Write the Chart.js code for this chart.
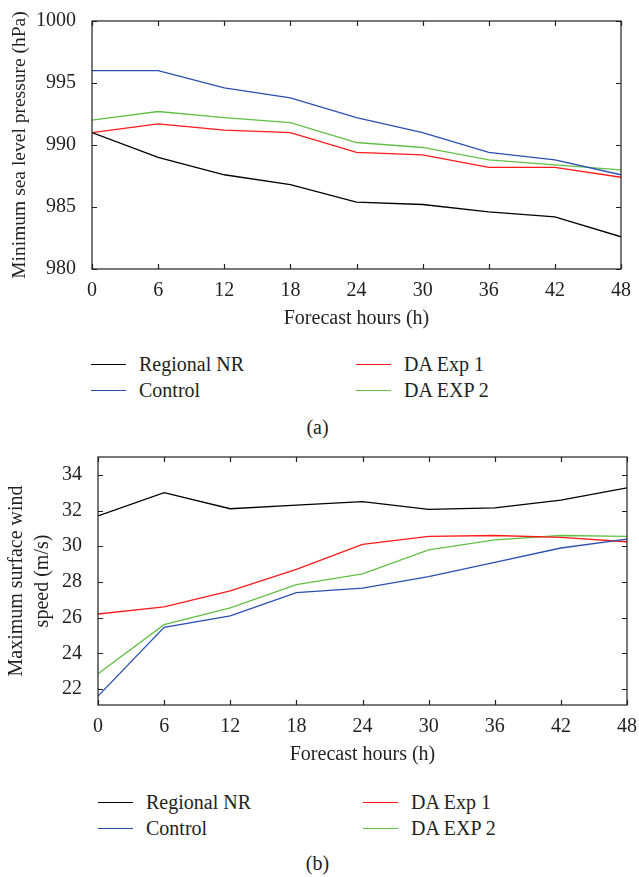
<!DOCTYPE html>
<html>
<head>
<meta charset="utf-8">
<script src="https://cdn.jsdelivr.net/npm/chart.js@4.4.1/dist/chart.umd.min.js"></script>
<style>
	body { margin: 0; background: #fff; font-family: "Liberation Serif", serif; color: #231f20; }
	#page { position: relative; width: 639px; height: 877px; overflow: hidden; }
	.box { position: absolute; left: 0; width: 639px; height: 340px; }
	.legend { position: absolute; display: grid; grid-template-columns: 265px 200px; row-gap: 2px; font-size: 20px; line-height: 24px; }
	.item { display: flex; align-items: center; white-space: nowrap; }
	.swatch { width: 35px; height: 0; border-top: 1.6px solid; margin-right: 13px; }
	.caption { position: absolute; width: 639px; text-align: center; font-size: 20px; line-height: 24px; }
</style>
</head>
<body>
<div id="page">
	<div class="box" style="top:0"><canvas id="chart-pressure"></canvas></div>
	<div class="legend" id="legend-pressure" style="left:91px; top:352px"></div>
	<div class="caption" style="top:415px; left:-2px">(a)</div>

	<div class="box" style="top:430px"><canvas id="chart-wind"></canvas></div>
	<div class="legend" id="legend-wind" style="left:98px; top:790px"></div>
	<div class="caption" style="top:851px; left:-2px">(b)</div>
</div>
<script>
const TEXT = "#231f20";
const FONT = "'Liberation Serif', serif";

// Chart data
const hours = [0, 6, 12, 18, 24, 30, 36, 42, 48];
const seriesNames = ["Regional NR", "Control", "DA Exp 1", "DA EXP 2"];
const seriesColors = ["#000000", "#2a4fb3", "#ff1a1a", "#62bf45"];

const pressureNR = [991, 989, 987.6, 986.8, 985.4, 985.2, 984.6, 984.2, 982.6];
const pressureControl = [996, 996, 994.6, 993.8, 992.2, 991.0, 989.4, 988.8, 987.6];
const pressureExp1 = [991, 991.7, 991.2, 991.0, 989.4, 989.2, 988.2, 988.2, 987.4];
const pressureExp2 = [992, 992.7, 992.2, 991.8, 990.2, 989.8, 988.8, 988.4, 988.0];
const pressureTicks = [980, 985, 990, 995, 1000];

const windNR = [31.7, 33.0, 32.1, 32.3, 32.5, 32.07, 32.15, 32.58, 33.27];
const windControl = [21.6, 25.45, 26.1, 27.4, 27.65, 28.3, 29.1, 29.9, 30.4];
const windExp1 = [26.2, 26.6, 27.5, 28.7, 30.1, 30.55, 30.6, 30.5, 30.25];
const windExp2 = [22.85, 25.6, 26.55, 27.85, 28.45, 29.8, 30.35, 30.6, 30.55];
const windTicks = [22, 24, 26, 28, 30, 32, 34];

// Box round the plot with small inward ticks on all four sides
const frameTicks = {
	id: "frameTicks",
	afterDatasetsDraw(chart) {
		const { ctx, chartArea: a, scales: { x, y } } = chart;
		const len = 5;
		ctx.save();
		ctx.strokeStyle = TEXT;
		ctx.lineWidth = 1.2;
		ctx.beginPath();
		x.ticks.forEach((t) => {
			const px = Math.round(x.getPixelForValue(t.value)) + 0.5;
			ctx.moveTo(px, a.bottom); ctx.lineTo(px, a.bottom - len);
			ctx.moveTo(px, a.top); ctx.lineTo(px, a.top + len);
		});
		y.ticks.forEach((t) => {
			const py = Math.round(y.getPixelForValue(t.value)) + 0.5;
			ctx.moveTo(a.left, py); ctx.lineTo(a.left + len, py);
			ctx.moveTo(a.right, py); ctx.lineTo(a.right - len, py);
		});
		ctx.stroke();
		ctx.strokeRect(a.left, a.top, a.width, a.height);
		ctx.restore();
	},
};

const makeDatasets = (series) =>
	series.map((vals, i) => ({
		label: seriesNames[i],
		data: hours.map((h, k) => ({ x: h, y: vals[k] })),
		borderColor: seriesColors[i],
		backgroundColor: seriesColors[i],
		borderWidth: 1.3,
		pointRadius: 0,
		tension: 0,
		fill: false,
	}));

const makeChart = (id, series, opts) => {
	const tickFont = { family: FONT, size: 20 };
	return new Chart(document.getElementById(id), {
		type: "line",
		data: { datasets: makeDatasets(series) },
		plugins: [frameTicks],
		options: {
			responsive: true,
			maintainAspectRatio: false,
			animation: false,
			layout: { padding: opts.padding },
			plugins: { legend: { display: false }, tooltip: { enabled: false } },
			scales: {
				x: {
					type: "linear",
					min: 0,
					max: 48,
					border: { display: false },
					grid: { display: false },
					afterBuildTicks: (scale) => { scale.ticks = hours.map((v) => ({ value: v })); },
					afterFit: (scale) => { scale.height = opts.xHeight; },
					ticks: { color: TEXT, font: tickFont, padding: 2, maxRotation: 0, callback: (v) => String(v) },
					title: {
						display: true,
						text: "Forecast hours (h)",
						color: TEXT,
						font: { family: FONT, size: 20, lineHeight: 1.2 },
						padding: { top: 0, bottom: opts.xTitlePad },
					},
				},
				y: {
					min: opts.yMin,
					max: opts.yMax,
					border: { display: false },
					grid: { display: false },
					afterBuildTicks: (scale) => { scale.ticks = opts.yTicks.map((v) => ({ value: v })); },
					afterFit: (scale) => { scale.width = opts.yWidth; },
					ticks: { color: TEXT, font: tickFont, padding: 8, callback: (v) => String(v) },
					title: {
						display: true,
						text: opts.yTitle,
						color: TEXT,
						font: { family: FONT, size: opts.yTitleSize, lineHeight: 1.3 },
						padding: { top: opts.yTitlePad, bottom: 0 },
					},
				},
			},
		},
	});
};

// Legend in two columns, filled column by column
const makeLegend = (id) => {
	const el = document.getElementById(id);
	[0, 2, 1, 3].forEach((i) => {
		const item = document.createElement("div");
		item.className = "item";
		item.innerHTML = `<span class="swatch" style="border-color:${seriesColors[i]}"></span><span>${seriesNames[i]}</span>`;
		el.appendChild(item);
	});
};

makeChart("chart-pressure", [pressureNR, pressureControl, pressureExp1, pressureExp2], {
	padding: { top: 21, right: 18, left: 0, bottom: 0 },
	xHeight: 71,
	xTitlePad: 9,
	yWidth: 92,
	yTitlePad: 7,
	yTitleSize: 19.5,
	yMin: 980,
	yMax: 1000,
	yTicks: pressureTicks,
	yTitle: "Minimum sea level pressure (hPa)",
});

makeChart("chart-wind", [windNR, windControl, windExp1, windExp2], {
	padding: { top: 27, right: 12, left: 0, bottom: 0 },
	xHeight: 65,
	xTitlePad: 3,
	yWidth: 98,
	yTitlePad: 4,
	yTitleSize: 20,
	yMin: 21.1,
	yMax: 35,
	yTicks: windTicks,
	yTitle: ["Maximum surface wind", "speed (m/s)"],
});

makeLegend("legend-pressure");
makeLegend("legend-wind");
</script>
</body>
</html>
